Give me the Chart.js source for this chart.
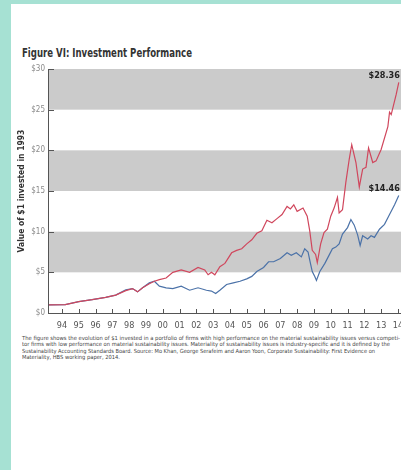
<!DOCTYPE html>
<html>
<head>
<meta charset="utf-8">
<script src="https://cdn.jsdelivr.net/npm/chart.js@4"></script>
<style>
  html, body { margin: 0; padding: 0; }
  body { width: 401px; height: 470px; overflow: hidden; background: #a6e1d3; position: relative; }
  #panel { position: absolute; left: 11px; top: 4px; width: 420px; height: 480px; background: #fff; }
  #title { position: absolute; left: 21.5px; top: 46px; font: bold 11.5px "Liberation Sans Narrow", "DejaVu Sans Condensed", sans-serif; color: #333; white-space: nowrap; transform-origin: 0 0; }
  #wrap { position: absolute; left: 11px; top: 60px; width: 400px; height: 273px; }
  #caption { position: absolute; left: 21.5px; top: 334.5px; font: 5.6px "Liberation Sans Narrow", "DejaVu Sans Condensed", sans-serif; color: #444; }
  #caption div { white-space: nowrap; height: 6.6px; line-height: 6.6px; transform-origin: 0 50%; }
</style>
</head>
<body>
<div id="panel"></div>
<div id="title">Figure VI: Investment Performance</div>
<div id="wrap"><canvas id="chart"></canvas></div>
<div id="caption">
  <div>The figure shows the evolution of $1 invested in a portfolio of firms with high performance on the material sustainability issues versus competi-</div>
  <div>tor firms with low performance on material sustainability issues. Materiality of sustainability issues is industry-specific and it is defined by the</div>
  <div>Sustainability Accounting Standards Board. Source: Mo Khan, George Serafeim and Aaron Yoon, Corporate Sustainability: First Evidence on</div>
  <div>Materiality, HBS working paper, 2014.</div>
</div>
<script>
// high performance on material issues (red)
const highYears = [1993.2, 1994.2, 1995.0, 1995.8, 1996.6, 1997.2, 1997.8, 1998.2, 1998.5, 1998.8,
  1999.2, 1999.5, 1999.8, 2000.2, 2000.6, 2001.1, 2001.6, 2002.1, 2002.5, 2002.7,
  2002.9, 2003.1, 2003.4, 2003.7, 2004.1, 2004.4, 2004.7, 2005.0, 2005.3, 2005.6,
  2005.9, 2006.2, 2006.5, 2006.8, 2007.1, 2007.4, 2007.6, 2007.8, 2008.0, 2008.35,
  2008.6, 2008.75, 2008.9, 2009.1, 2009.2, 2009.4, 2009.6, 2009.8, 2010.0, 2010.2,
  2010.4, 2010.5, 2010.7, 2010.9, 2011.1, 2011.25, 2011.5, 2011.7, 2011.9, 2012.1,
  2012.25, 2012.5, 2012.7, 2013.0, 2013.4, 2013.5, 2013.6, 2013.9, 2014.05];
const highValues = [1.0, 1.04, 1.4, 1.64, 1.92, 2.2, 2.75, 3.0, 2.6, 3.1,
  3.6, 3.9, 4.1, 4.3, 5.0, 5.3, 5.0, 5.6, 5.3, 4.7,
  5.0, 4.7, 5.7, 6.1, 7.4, 7.7, 7.9, 8.5, 9.0, 9.8,
  10.1, 11.4, 11.1, 11.6, 12.1, 13.1, 12.8, 13.3, 12.5, 12.9,
  11.9, 10.1, 7.7, 7.2, 6.2, 8.5, 9.9, 10.3, 11.9, 12.9,
  14.2, 12.3, 12.7, 16.1, 18.9, 20.7, 18.5, 15.5, 17.7, 17.9,
  20.3, 18.5, 18.7, 20.1, 22.9, 24.7, 24.4, 26.9, 28.36];

// low performance on material issues (blue)
const lowYears = [1993.2, 1994.2, 1995.0, 1995.8, 1996.6, 1997.2, 1997.8, 1998.2, 1998.5, 1998.8,
  1999.2, 1999.5, 1999.8, 2000.2, 2000.6, 2001.1, 2001.6, 2002.1, 2002.6, 2002.9,
  2003.15, 2003.4, 2003.8, 2004.2, 2004.6, 2005.0, 2005.3, 2005.6, 2006.0, 2006.3,
  2006.6, 2007.0, 2007.4, 2007.65, 2007.95, 2008.25, 2008.45, 2008.65, 2008.75, 2008.9,
  2009.05, 2009.15, 2009.35, 2009.65, 2009.95, 2010.1, 2010.3, 2010.5, 2010.7, 2011.0,
  2011.2, 2011.4, 2011.6, 2011.75, 2011.9, 2012.2, 2012.4, 2012.6, 2012.9, 2013.2,
  2013.5, 2013.8, 2014.05];
const lowValues = [1.0, 1.04, 1.4, 1.64, 1.92, 2.2, 2.85, 3.0, 2.6, 3.1,
  3.7, 3.9, 3.3, 3.1, 3.0, 3.3, 2.8, 3.1, 2.8, 2.7,
  2.4, 2.8, 3.5, 3.7, 3.9, 4.2, 4.5, 5.1, 5.6, 6.3,
  6.3, 6.7, 7.4, 7.1, 7.4, 6.9, 7.9, 7.5, 6.5, 5.1,
  4.5, 4.0, 5.1, 6.1, 7.3, 7.9, 8.1, 8.5, 9.7, 10.5,
  11.5, 10.8, 9.6, 8.3, 9.5, 9.1, 9.5, 9.3, 10.3, 10.9,
  12.1, 13.3, 14.46];

const yearTicks = [1994, 1995, 1996, 1997, 1998, 1999, 2000, 2001, 2002, 2003, 2004,
  2005, 2006, 2007, 2008, 2009, 2010, 2011, 2012, 2013, 2014];
const yearLabels = ['94', '95', '96', '97', '98', '99', '00', '01', '02', '03', '04',
  '05', '06', '07', '08', '09', '10', '11', '12', '13', '14'];
const dollarTicks = [0, 5, 10, 15, 20, 25, 30];
const bands = [[5, 10], [15, 20], [25, 30]];

const FONT = '"Liberation Sans Narrow", "DejaVu Sans Condensed", sans-serif';

// squeeze html text lines to the widths they have in the figure
function fitWidth(el, w) {
  el.style.display = 'inline-block';
  const real = el.getBoundingClientRect().width;
  el.style.display = 'block';
  el.style.transform = 'scaleX(' + (w / real) + ')';
}
fitWidth(document.getElementById('title'), 170);
const capLines = document.querySelectorAll('#caption div');
[378, 368, 353, 98].forEach((w, i) => fitWidth(capLines[i], w));

const bandsPlugin = {
  id: 'bands',
  beforeDatasetsDraw(chart) {
    const { ctx, chartArea, scales } = chart;
    ctx.save();
    ctx.fillStyle = '#cbcbcb';
    bands.forEach(b => {
      const top = scales.y.getPixelForValue(b[1]);
      const bottom = scales.y.getPixelForValue(b[0]);
      ctx.fillRect(chartArea.left, top, chartArea.right - chartArea.left, bottom - top);
    });
    ctx.restore();
  }
};

const axesPlugin = {
  id: 'axesInward',
  afterDatasetsDraw(chart) {
    const { ctx, chartArea, scales } = chart;
    ctx.save();
    ctx.strokeStyle = '#555';
    ctx.lineWidth = 1;
    ctx.beginPath();
    ctx.moveTo(chartArea.left + 0.5, chartArea.top);
    ctx.lineTo(chartArea.left + 0.5, chartArea.bottom + 0.5);
    ctx.lineTo(chartArea.right, chartArea.bottom + 0.5);
    dollarTicks.forEach(v => {
      const y = Math.round(scales.y.getPixelForValue(v)) + 0.5;
      ctx.moveTo(chartArea.left, y);
      ctx.lineTo(chartArea.left + 6, y);
    });
    yearTicks.forEach(v => {
      const x = Math.round(scales.x.getPixelForValue(v)) + 0.5;
      ctx.moveTo(x, chartArea.bottom);
      ctx.lineTo(x, chartArea.bottom - 4);
    });
    ctx.stroke();
    ctx.restore();
  }
};

const endLabelsPlugin = {
  id: 'endLabels',
  afterDatasetsDraw(chart) {
    const { ctx } = chart;
    ctx.save();
    ctx.font = 'bold 9px ' + FONT;
    ctx.fillStyle = '#222';
    ctx.textAlign = 'right';
    ctx.textBaseline = 'bottom';
    chart.data.datasets.forEach((ds, i) => {
      const pts = chart.getDatasetMeta(i).data;
      const last = pts[pts.length - 1];
      const val = ds.data[ds.data.length - 1].y;
      ctx.fillText('$' + val.toFixed(2), last.x + 1, last.y - 2);
    });
    ctx.restore();
  }
};

new Chart(document.getElementById('chart'), {
  type: 'line',
  data: {
    datasets: [
      {
        label: 'High performance',
        data: highYears.map((x, i) => ({ x: x, y: highValues[i] })),
        borderColor: '#d0475d',
        borderWidth: 1.2,
        pointRadius: 0,
        tension: 0
      },
      {
        label: 'Low performance',
        data: lowYears.map((x, i) => ({ x: x, y: lowValues[i] })),
        borderColor: '#4b72a8',
        borderWidth: 1.2,
        pointRadius: 0,
        tension: 0
      }
    ]
  },
  options: {
    responsive: true,
    maintainAspectRatio: false,
    animation: false,
    events: [],
    layout: { padding: { left: 0, right: 5, top: 9, bottom: 0 } },
    plugins: { legend: { display: false }, tooltip: { enabled: false } },
    scales: {
      x: {
        type: 'linear',
        min: 1993.17,
        max: 2014.48,
        grid: { display: false, drawTicks: false },
        border: { display: false },
        afterBuildTicks: s => { s.ticks = yearTicks.map(v => ({ value: v })); },
        afterFit: s => { s.height = 20; },
        ticks: {
          padding: 7,
          autoSkip: false,
          maxRotation: 0,
          color: '#555',
          font: { family: FONT, size: 9 },
          callback: v => yearLabels[yearTicks.indexOf(v)]
        }
      },
      y: {
        min: 0,
        max: 30,
        grid: { display: false, drawTicks: false },
        border: { display: false },
        afterBuildTicks: s => { s.ticks = dollarTicks.map(v => ({ value: v })); },
        afterFit: s => { s.width = 37; },
        ticks: {
          padding: 3,
          color: '#8a8a8a',
          font: { family: FONT, size: 8 },
          callback: v => '$' + v
        },
        title: {
          display: true,
          text: 'Value of $1 invested in 1993',
          color: '#333',
          font: { family: FONT, size: 8.5, weight: 'bold' },
          padding: { top: 6, bottom: 0 }
        }
      }
    }
  },
  plugins: [bandsPlugin, axesPlugin, endLabelsPlugin]
});
</script>
</body>
</html>
